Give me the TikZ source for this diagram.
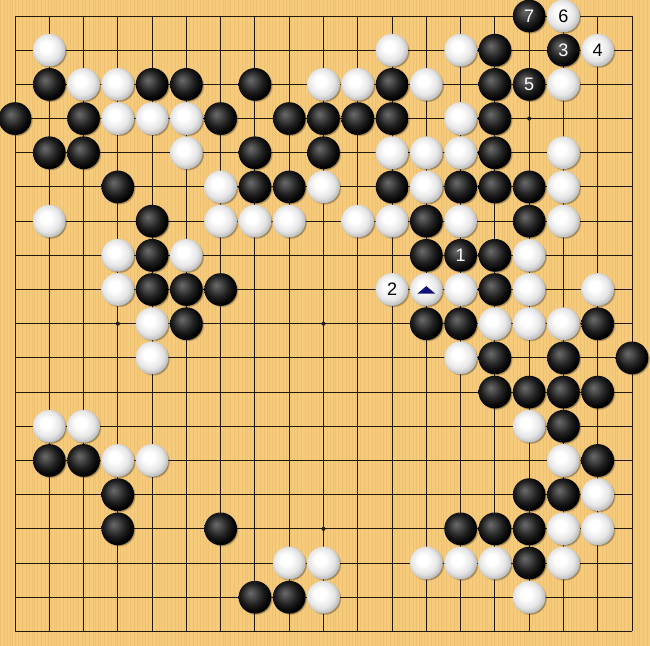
\documentclass[tikz,border=0pt]{standalone}
\usepackage{fontspec}
\setsansfont{Liberation Sans}
\usetikzlibrary{shadows}

\definecolor{boardwood}{RGB}{246,203,124}
\definecolor{woodgrain}{RGB}{214,160,80}
\definecolor{linebrown}{RGB}{35,25,10}
\definecolor{markblue}{RGB}{18,18,120}

\pgfdeclareradialshading{blackstone}{\pgfpoint{-7bp}{7bp}}{%
  color(0bp)=(black!58); color(7bp)=(black!70); color(16bp)=(black!87);
  color(26bp)=(black); color(50bp)=(black)}
\pgfdeclareradialshading{whitestone}{\pgfpoint{-6bp}{6bp}}{%
  color(0bp)=(white); color(8bp)=(white); color(20bp)=(black!10);
  color(30bp)=(black!32); color(50bp)=(black!45)}

\newcommand{\stonefont}{\sffamily\fontsize{15}{15}\selectfont}

\begin{document}
\begin{tikzpicture}[x=1cm, y=0.9974cm,
    stone/.style={circle, minimum size=0.955cm, inner sep=0pt, shade,
      circular drop shadow={shadow xshift=0.035cm, shadow yshift=-0.035cm,
        shadow scale=1.02, fill=black, opacity=0.4}},
    bstone/.style={stone, shading=blackstone, text=white, font=\stonefont},
    wstone/.style={stone, shading=whitestone, text=black, font=\stonefont},
    gridline/.style={line width=0.8pt, draw=linebrown},
    woodstripe/.style={line width=0.3pt, draw=woodgrain, opacity=0.22}]

    % Board
    \fill[boardwood] (-0.4376, 0.4679) rectangle (18.525, -18.424);
    \useasboundingbox (-0.4376, 0.4679) rectangle (18.525, -18.424);
    \foreach \k in {0,...,205}
      \draw[woodstripe] ({-0.4376+0.0925*\k+0.025*sin(53*\k)}, 0.4679) -- ++(0, -18.9);
    \foreach \i in {0,...,18} {
      \draw[gridline] (\i, 0) -- (\i, -18);
      \draw[gridline] (0, -\i) -- (18, -\i);
    }
    \foreach \c in {3, 9, 15}
      \foreach \r in {3, 9, 15}
        \fill[linebrown] (\c, -\r) circle (0.06);

    % Stones
    % columns 0..18 left to right, rows 0..18 top to bottom
    \foreach \c/\r in {14/1, 1/2, 4/2, 5/2, 7/2, 11/2, 14/2,
        0/3, 2/3, 6/3, 8/3, 9/3, 10/3, 11/3, 14/3, 1/4, 2/4, 7/4, 9/4, 14/4,
        3/5, 7/5, 8/5, 11/5, 13/5, 14/5, 15/5, 4/6, 12/6, 15/6, 4/7, 12/7, 14/7,
        4/8, 5/8, 6/8, 14/8, 5/9, 12/9, 13/9, 17/9, 14/10, 16/10, 18/10,
        14/11, 15/11, 16/11, 17/11, 16/12, 1/13, 2/13, 17/13, 3/14, 15/14, 16/14,
        3/15, 6/15, 13/15, 14/15, 15/15, 15/16, 7/17, 8/17}
      \node[bstone] at (\c, -\r) (b\c-\r) {};
    \foreach \c/\r in {1/1, 11/1, 13/1, 2/2, 3/2, 9/2, 10/2, 12/2, 16/2,
        3/3, 4/3, 5/3, 13/3, 5/4, 11/4, 12/4, 13/4, 16/4, 6/5, 9/5, 12/5, 16/5,
        1/6, 6/6, 7/6, 8/6, 10/6, 11/6, 13/6, 16/6, 3/7, 5/7, 15/7,
        3/8, 13/8, 15/8, 17/8, 4/9, 14/9, 15/9, 16/9, 4/10, 13/10,
        1/12, 2/12, 15/12, 3/13, 4/13, 16/13, 17/14, 16/15, 17/15,
        8/16, 9/16, 12/16, 13/16, 14/16, 16/16, 9/17, 15/17}
      \node[wstone] at (\c, -\r) (w\c-\r) {};

    % Moves
    \node[bstone] at (13, -7) (m1) {1};
    \node[wstone] at (11, -8) (m2) {2};
    \node[bstone] at (16, -1) (m3) {3};
    \node[wstone] at (17, -1) (m4) {4};
    \node[bstone] at (15, -2) (m5) {5};
    \node[wstone] at (16, -0) (m6) {6};
    \node[bstone] at (15, -0) (m7) {7};

    % Marked stone
    \node[wstone] at (12, -8) (tri) {};
    \fill[markblue] ([shift={(-0.26,-0.12)}]tri.center) -- ([shift={(0.26,-0.12)}]tri.center)
      -- ([shift={(0,0.1)}]tri.center) -- cycle;

  \end{tikzpicture}
\end{document}
